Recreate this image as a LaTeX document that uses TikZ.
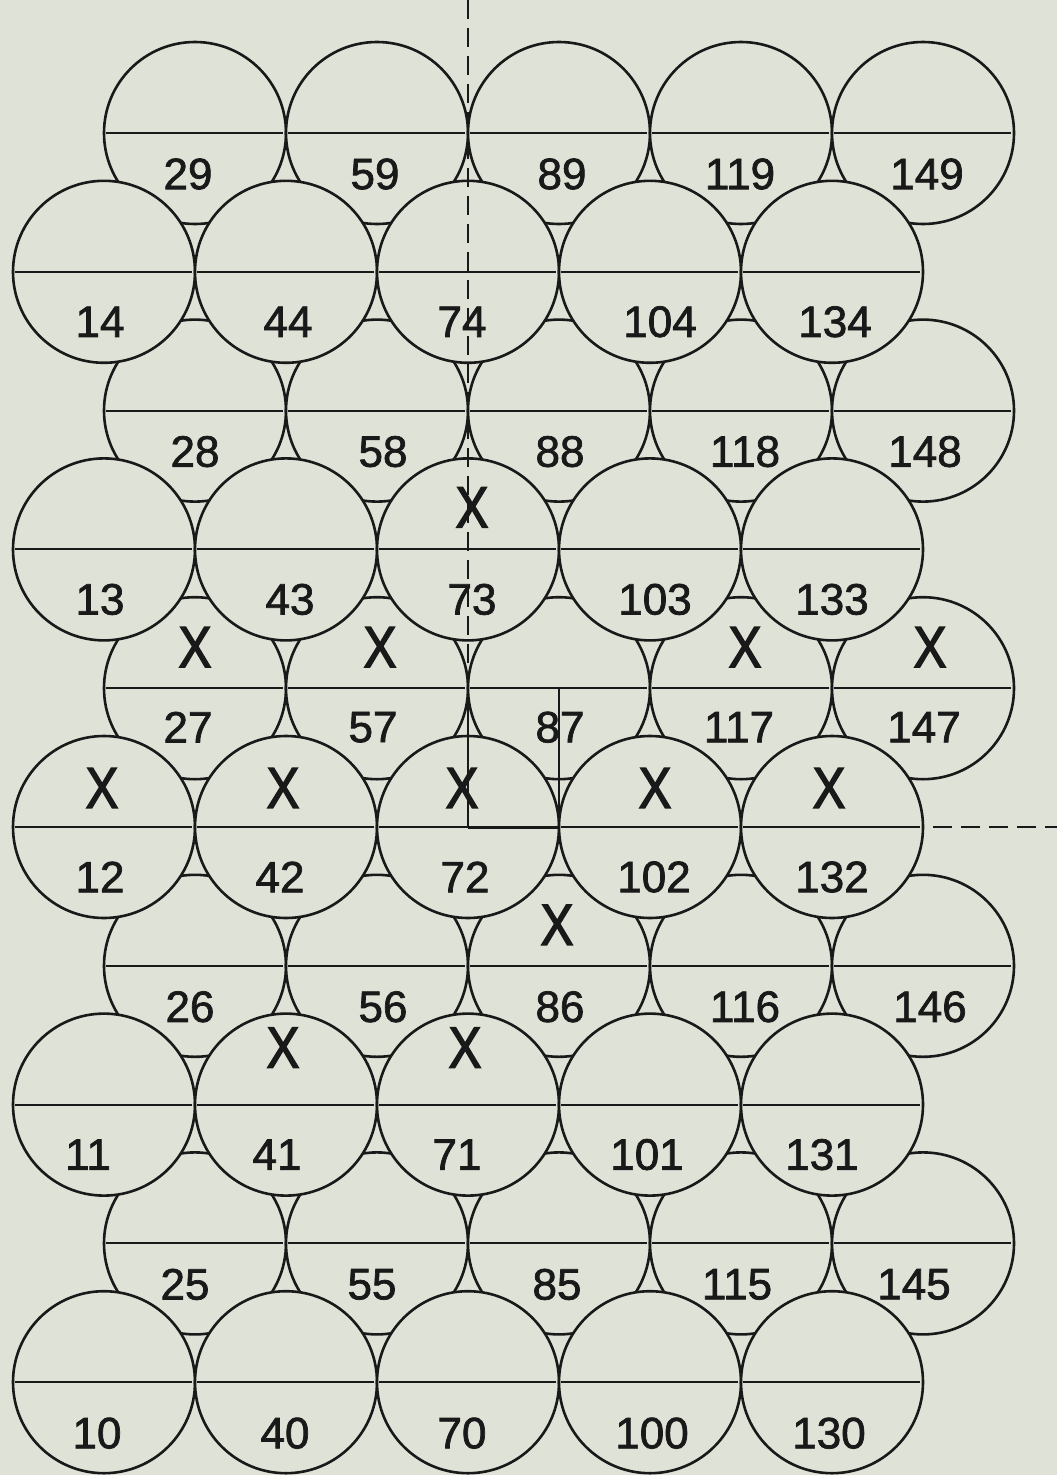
\documentclass[tikz,border=0pt]{standalone}
\usepackage{fontspec}
\usepackage{graphicx}
\setmainfont{Liberation Sans}
\newfontfamily\numfont[FakeBold=1.6]{Liberation Sans}
\newfontfamily\crossfont[FakeBold=2.6]{Liberation Sans}
\usetikzlibrary{calc}
\definecolor{paper}{RGB}{223,226,215}
\definecolor{ink}{RGB}{25,25,25}
\begin{document}
\begin{tikzpicture}[x=1pt,y=-1pt,
  disc/.style={circle, draw=ink, line width=2.6pt, fill=paper, minimum size=182pt, inner sep=0pt, outer sep=0pt},
  num/.style={text=ink, font=\numfont\fontsize{44}{44}\selectfont, inner sep=0pt},
  cross/.style={text=ink, font=\crossfont\fontsize{58}{58}\selectfont, inner sep=0pt},
  mid/.style={draw=ink, line width=2pt},
  guide/.style={draw=ink, line width=1.8pt, dash pattern=on 19pt off 9pt},
  rule/.style={draw=ink, line width=1.9pt}]
\fill[paper] (0,0) rectangle (1057,1475);
\useasboundingbox (0,0) rectangle (1057,1475);
% offset rows (underneath)
\foreach \j in {0,...,4}{
  \foreach \i in {0,...,4}{
    \pgfmathtruncatemacro\lab{29-\j+30*\i}
    \node[disc] (c\lab) at ({195+182*\i},{133+277.6*\j}) {};
    \draw[mid] ($(c\lab.west)+(2,0)$) -- ($(c\lab.east)+(-3,0)$);
  }
}
% aligned rows (on top)
\foreach \j in {0,...,4}{
  \foreach \i in {0,...,4}{
    \pgfmathtruncatemacro\lab{14-\j+30*\i}
    \node[disc] (c\lab) at ({104+182*\i},{271.8+277.6*\j}) {};
    \draw[mid] ($(c\lab.west)+(2,0)$) -- ($(c\lab.east)+(-3,0)$);
  }
}
% numbers
\foreach \l/\dx/\dy in {
  29/-7/41, 59/-2/41, 89/3/41, 119/-1/41, 149/4/41,
  14/-4/50, 44/2/50, 74/-6/50, 104/10/50, 134/3/50,
  28/0/41, 58/6/41, 88/1/41, 118/4/41, 148/2/41,
  13/-4/50, 43/4/50, 73/4/50, 103/5/50, 133/0/50,
  27/-7/39, 57/-4/39, 87/1/39, 117/-2/39, 147/1/39,
  12/-4/50, 42/-6/50, 72/-3/50, 102/4/50, 132/0/50,
  26/-5/41, 56/6/41, 86/1/41, 116/4/41, 146/7/41,
  11/-16/50, 41/-9/50, 71/-11/50, 101/-3/50, 131/-10/50,
  25/-10/41, 55/-5/41, 85/-2/41, 115/-4/41, 145/-9/41,
  10/-7/51, 40/-1/51, 70/-6/51, 100/2/51, 130/-3/51}{
  \node[num] (n\l) at ($(c\l)+(\dx,\dy)$) {\l};
}
% crosses
\foreach \l/\dx/\dy in {73/4/-42, 27/0/-41, 57/3/-41, 117/4/-41, 147/7/-41,
  12/-2/-39, 42/-3/-39, 72/-6/-39, 102/5/-39, 132/-3/-39,
  86/-2/-41, 41/-3/-57, 71/-3/-57}{
  \node[cross] (x\l) at ($(c\l)+(\dx,\dy)$) {\scalebox{0.85}[1]{X}};
}
% guide lines
\coordinate (gtop) at (468,0);
\coordinate (gright) at (1057,827);
\draw[guide] (gtop) -- (c57.east);
\draw[rule] (c57.east) -- (c72.center);
\draw[rule] (c87.center) -- (c72.east);
\draw[line width=3pt, draw=ink] (c72.center) -- (c72.east);
\draw[guide] ($(c132.east)+(10,0)$) -- (gright);
\end{tikzpicture}
\end{document}
